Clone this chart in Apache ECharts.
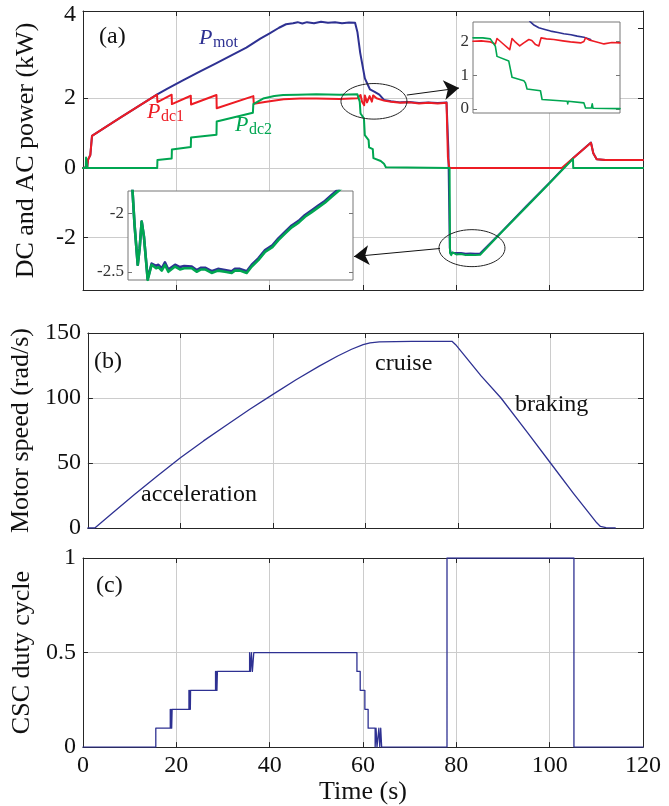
<!DOCTYPE html>
<html>
<head>
<meta charset="utf-8">
<title>DC/AC power, motor speed and CSC duty cycle</title>
<script src="https://cdn.jsdelivr.net/npm/echarts@6/dist/echarts.min.js"></script>
<style>
    html, body { margin: 0; padding: 0; background: #fff; }
    #chart { width: 669px; height: 806px; }
</style>
</head>
<body>
<div id="chart"></div>
<script>
    // (a) power traces, [time s, kW]
    const pMot = [[0, 0], [0.9, 0.03], [1.07, 0.23], [1.57, 0.37], [1.93, 0.92], [4, 1.1], [8, 1.44], [12, 1.78],
        [15.9, 2.11], [18, 2.27], [21.4, 2.51], [25, 2.76], [28.5, 3.0], [32, 3.24], [35, 3.45], [38, 3.71],
        [40, 3.86], [42, 4.02], [43.5, 4.12], [45, 4.15], [46, 4.18], [47, 4.14], [48, 4.18], [49.5, 4.15],
        [51, 4.19], [52.5, 4.16], [54, 4.18], [55.5, 4.15], [57, 4.17], [58.3, 4.16], [58.8, 3.9], [59.4, 3.3],
        [60.4, 2.57], [61.5, 2.25], [62.5, 2.18], [63.5, 2.1], [64.5, 1.95], [66, 1.91], [68, 1.88], [70, 1.89],
        [72, 1.86], [74, 1.88], [76, 1.86], [77.9, 1.88], [78.3, 0.5], [78.6, -2.3], [78.8, -2.43], [79.2, -2.42],
        [80, -2.44], [81, -2.44], [82, -2.46], [83, -2.45], [84, -2.46], [85.1, -2.45], [90, -1.79], [95, -1.1],
        [100, -0.42], [105, 0.28], [108.85, 0.73], [109.35, 0.42], [110.07, 0.25], [112, 0.23], [120, 0.23]]
    const pDc1 = [[0, 0], [0.9, 0.02], [1.07, 0.23], [1.57, 0.37], [1.93, 0.92], [4, 1.1], [8, 1.44], [12, 1.78],
        [15.86, 2.1], [15.95, 1.89], [19.0, 2.1], [19.05, 1.83], [23.1, 2.07], [23.15, 1.82], [28.6, 2.09],
        [28.65, 1.71], [36.5, 2.06], [36.6, 1.84], [39.3, 1.9], [43, 1.97], [46.5, 1.99], [50, 1.99], [55, 1.98],
        [58.8, 2.0], [59.2, 1.95], [59.47, 2.09], [59.8, 1.9], [60.25, 1.8], [60.39, 2.08], [60.86, 1.88],
        [61.42, 2.06], [61.9, 1.9], [62.17, 2.08], [62.9, 2.0], [63.8, 1.96], [64.5, 1.93], [66, 1.9], [68, 1.87],
        [70, 1.88], [72, 1.85], [74, 1.87], [76, 1.85], [77.9, 1.87], [78.2, 0.3], [78.5, 0], [102.6, 0],
        [105, 0.28], [108.85, 0.72], [109.35, 0.42], [110.07, 0.25], [112, 0.23], [120, 0.23]]
    const pDc2 = [[0, 0], [0.6, 0], [0.65, 0.3], [0.9, 0.28], [0.95, 0], [15.9, 0], [15.95, 0.23], [19.0, 0.27],
        [19.05, 0.53], [23.1, 0.6], [23.15, 0.87], [28.6, 0.95], [28.65, 1.33], [36.4, 1.58], [36.5, 1.83],
        [38.6, 1.99], [41, 2.06], [42.9, 2.09], [46, 2.1], [50, 2.11], [55, 2.1], [58.8, 2.11], [59.3, 1.9],
        [59.47, 1.56], [60.2, 1.42], [60.39, 0.94], [61.2, 0.8], [61.31, 0.59], [62.1, 0.54], [62.23, 0.28],
        [63.8, 0.2], [64.5, 0.12], [64.9, 0.02], [65.3, 0], [78.55, 0], [78.65, -2.44], [78.9, -2.5],
        [79.2, -2.42], [80, -2.48], [81, -2.47], [82, -2.5], [83, -2.49], [84, -2.5], [85.1, -2.49], [90, -1.8],
        [95, -1.12], [100, -0.43], [105.0, 0.26], [105.05, 0], [120, 0]]

    // (a) inset, top right
    const motZoomA = [[61.2, 2.9], [61.48, 2.6], [61.7, 2.5], [62.03, 2.41], [62.4, 2.36], [62.75, 2.31],
        [63.2, 2.27], [63.56, 2.23], [64.0, 2.2], [64.38, 2.16], [64.79, 2.13], [65.2, 2.06]]
    const dc1ZoomA = [[58, 2.01], [58.5, 2.02], [59.06, 1.99], [59.37, 1.93], [59.47, 2.09], [59.8, 1.95],
        [60.25, 1.76], [60.39, 2.09], [60.6, 1.98], [60.86, 1.87], [61.11, 1.96], [61.42, 2.06], [61.6, 2.03],
        [61.83, 1.91], [62.03, 1.87], [62.17, 2.11], [62.5, 2.08], [62.95, 2.06], [63.5, 2.02], [63.97, 1.99],
        [64.59, 1.96], [64.79, 2.0], [64.89, 2.11], [65.1, 2.05], [65.4, 2.01], [66.02, 1.93], [66.5, 1.97],
        [67, 1.96]]
    const dc2ZoomA = [[58, 2.11], [58.6, 2.11], [59.06, 2.08], [59.37, 1.86], [59.47, 1.56], [60.19, 1.42],
        [60.29, 1.37], [60.39, 0.94], [61.11, 0.84], [61.21, 0.77], [61.31, 0.59], [62.13, 0.54], [62.23, 0.28],
        [63.77, 0.23], [63.8, 0.15], [63.83, 0.23], [64.79, 0.18], [64.89, 0.03], [65.25, 0.03], [65.3, 0.15],
        [65.35, 0.02], [67, 0.01]]

    // (a) inset, bottom left
    const motZoomB = [[77.7, -1.7], [77.85, -2.1], [78.02, -2.44], [78.12, -2.3], [78.23, -2.07], [78.35, -2.2],
        [78.55, -2.56], [78.76, -2.43], [79.0, -2.45], [79.12, -2.44], [79.3, -2.47], [79.47, -2.42],
        [79.65, -2.48], [80.01, -2.44], [80.27, -2.46], [80.5, -2.45], [80.9, -2.455], [81.16, -2.485],
        [81.4, -2.465], [81.61, -2.465], [81.96, -2.495], [82.3, -2.475], [82.67, -2.485], [83.03, -2.495],
        [83.2, -2.475], [83.47, -2.475], [83.83, -2.495], [84.1, -2.44], [84.45, -2.385], [84.81, -2.315],
        [85.2, -2.275], [85.52, -2.215], [85.9, -2.155], [86.23, -2.105], [86.6, -2.065], [86.94, -2.015],
        [87.3, -1.975], [87.65, -1.935], [88.0, -1.895], [88.36, -1.845], [88.72, -1.795], [89.0, -1.755]]
    const dc2ZoomB = [[77.7, -1.7], [77.85, -2.1], [78.02, -2.44], [78.12, -2.3], [78.23, -2.07], [78.35, -2.2],
        [78.55, -2.57], [78.76, -2.44], [79.0, -2.47], [79.12, -2.46], [79.3, -2.49], [79.47, -2.44],
        [79.65, -2.5], [80.01, -2.455], [80.27, -2.48], [80.5, -2.47], [80.9, -2.47], [81.16, -2.5],
        [81.4, -2.48], [81.61, -2.48], [81.96, -2.51], [82.3, -2.49], [82.67, -2.5], [83.03, -2.51],
        [83.2, -2.49], [83.47, -2.49], [83.83, -2.51], [84.1, -2.455], [84.45, -2.4], [84.81, -2.33],
        [85.2, -2.29], [85.52, -2.23], [85.9, -2.17], [86.23, -2.12], [86.6, -2.08], [86.94, -2.03],
        [87.3, -1.99], [87.65, -1.95], [88.0, -1.91], [88.36, -1.86], [88.72, -1.81], [89.0, -1.77]]

    // (b) motor speed, [time s, rad/s]
    const speed = [[0, 0], [1.5, 0], [5, 10.5], [10, 25.5], [15, 40], [20, 54], [25, 67], [30, 79.3],
        [35, 91.3], [40, 102.8], [45, 114], [50, 124.5], [54, 132.3], [57, 137.5], [59.5, 141], [61, 142.4],
        [63, 143.2], [70, 143.5], [78.7, 143.6], [79.5, 141], [85, 117], [89.3, 100], [95, 73.5], [100, 50],
        [105, 26.5], [108, 13], [110, 4], [110.8, 1.2], [112, 0.3], [114, 0]]

    // (c) CSC duty cycle, value held from each time on
    const duty = [[0, 0], [15.6, 0.1], [18.7, 0.2], [18.8, 0.1], [18.9, 0.2], [19.0, 0.1], [19.1, 0.2],
        [22.7, 0.3], [22.8, 0.2], [22.9, 0.3], [23.0, 0.2], [23.05, 0.3], [28.4, 0.4], [28.5, 0.3], [28.6, 0.4],
        [28.7, 0.3], [28.8, 0.4], [35.7, 0.5], [35.9, 0.4], [36.1, 0.5], [36.3, 0.4], [36.6, 0.5], [58.7, 0.4],
        [59.4, 0.3], [60.4, 0.2], [61.1, 0.1], [62.6, 0], [62.8, 0.1], [63.0, 0], [63.4, 0.1], [63.6, 0],
        [63.8, 0.1], [64.0, 0], [78.0, 1], [105.2, 0], [120, 0]]

    // ellipses [t, P, half width s, half height kW] and arrows [from, to]
    const ellipses = [[62.35, 1.91, 7.07, 0.51], [83.35, -2.3, 7.07, 0.53]]
    const arrows = [[[69.4, 2.09], [80.57, 2.29]], [[76.5, -2.31], [58.07, -2.54]]]

    const BLUE = '#2e3192'
    const RED = '#ed1c24'
    const GREEN = '#00a651'
    const AXIS = '#262626'
    const GRID = '#cccccc'
    const SERIF = '"Liberation Serif", "DejaVu Serif", serif'

    const chart = echarts.init(document.getElementById('chart'))

    function timeAxis(grid, position, labels) {
        return {
            type: 'value', gridIndex: grid, position: position, min: 0, max: 120, interval: 20,
            axisLine: { show: true, onZero: false, lineStyle: { color: AXIS, width: 1 } },
            axisTick: { show: true, inside: true, length: 5, lineStyle: { color: AXIS } },
            axisLabel: { show: labels, margin: 7, color: '#111', fontFamily: SERIF, fontSize: 24 },
            splitLine: { show: position === 'bottom', lineStyle: { color: GRID, width: 1 } }
        }
    }

    function sideAxis(grid, position, min, max, extra) {
        return Object.assign({
            type: 'value', gridIndex: grid, position: position, min: min, max: max,
            axisLine: { show: true, onZero: false, lineStyle: { color: AXIS, width: 1 } },
            axisTick: { show: true, inside: true, length: 5, lineStyle: { color: AXIS } },
            axisLabel: { show: position === 'left', margin: 7, color: '#111', fontFamily: SERIF, fontSize: 24 },
            splitLine: { show: position === 'left', lineStyle: { color: GRID, width: 1 } },
            nameLocation: 'middle',
            nameTextStyle: { color: '#111', fontFamily: SERIF, fontSize: 26 }
        }, extra || {})
    }

    function insetX(grid, min, max) {
        return {
            type: 'value', gridIndex: grid, min: min, max: max, z: 6,
            axisLine: { show: false }, axisTick: { show: false },
            axisLabel: { show: false }, splitLine: { show: false }
        }
    }

    function insetY(grid, position, min, max, ticks) {
        return {
            type: 'value', gridIndex: grid, position: position, min: min, max: max, z: 6,
            axisLine: { show: false },
            axisTick: { show: true, inside: true, length: 4, customValues: ticks, lineStyle: { color: '#777' } },
            axisLabel: {
                show: position === 'left', customValues: ticks, margin: 4,
                color: '#333', fontFamily: SERIF, fontSize: 17
            },
            splitLine: { show: false }
        }
    }

    function line(data, color, width, xi, yi, z) {
        return {
            type: 'line', data: data, xAxisIndex: xi, yAxisIndex: yi, z: z,
            showSymbol: false, symbol: 'none', silent: true,
            lineStyle: { color: color, width: width, join: 'round', cap: 'round' }
        }
    }

    function label(text, x, y, size, color, italic) {
        return {
            type: 'text', x: x, y: y, z: 20,
            style: {
                text: text, fill: color, verticalAlign: 'middle', textVerticalAlign: 'middle',
                font: (italic ? 'italic ' : '') + size + 'px ' + SERIF
            }
        }
    }

    const blueSeries = line(pMot, BLUE, 2, 0, 0, 2)
    blueSeries.markLine = {
        silent: true,
        symbol: ['none', 'arrow'],
        symbolSize: 15,
        label: { show: false },
        lineStyle: { color: '#111', width: 1, type: 'solid' },
        data: arrows.map(a => [{ coord: a[0] }, { coord: a[1] }])
    }

    const options = {
        animation: false,
        grid: [
            { left: 83, top: 11, width: 560, height: 279 },
            { left: 83, top: 333, width: 560, height: 195 },
            { left: 83, top: 558, width: 560, height: 196 },
            { left: 473, top: 22, width: 147, height: 91, show: true, z: 5,
              backgroundColor: '#fff', borderColor: '#777', borderWidth: 1 },
            { left: 128, top: 191, width: 225, height: 89, show: true, z: 5,
              backgroundColor: '#fff', borderColor: '#777', borderWidth: 1 }
        ],
        xAxis: [
            timeAxis(0, 'bottom', false),
            timeAxis(0, 'top', false),
            timeAxis(1, 'bottom', false),
            timeAxis(1, 'top', false),
            Object.assign(timeAxis(2, 'bottom', true), {
                name: 'Time (s)', nameLocation: 'middle', nameGap: 25,
                nameTextStyle: { color: '#111', fontFamily: SERIF, fontSize: 26 }
            }),
            timeAxis(2, 'top', false),
            insetX(3, 58, 67),
            insetX(4, 77.5, 89.5)
        ],
        yAxis: [
            sideAxis(0, 'left', -3.5, 4.5, {
                name: 'DC and AC power (kW)', nameGap: 44,
                axisTick: { show: true, inside: true, length: 5, customValues: [-2, 0, 2], lineStyle: { color: AXIS } },
                axisLabel: {
                    show: true, margin: 7, color: '#111', fontFamily: SERIF, fontSize: 24,
                    customValues: [-2, 0, 2, 4.4],
                    formatter: v => (v > 3 ? '4' : String(v))
                }
            }),
            sideAxis(0, 'right', -3.5, 4.5, {
                axisTick: { show: true, inside: true, length: 5, customValues: [-2, 0, 2, 4], lineStyle: { color: AXIS } }
            }),
            sideAxis(1, 'left', 0, 150, { interval: 50, name: 'Motor speed (rad/s)', nameGap: 44 }),
            sideAxis(1, 'right', 0, 150, { interval: 50 }),
            sideAxis(2, 'left', 0, 1, { interval: 0.5, name: 'CSC duty cycle', nameGap: 44 }),
            sideAxis(2, 'right', 0, 1, { interval: 0.5 }),
            insetY(3, 'left', -0.12, 2.58, [0, 1, 2]),
            insetY(3, 'right', -0.12, 2.58, [0, 1, 2]),
            insetY(4, 'left', -2.57, -1.81, [-2.5, -2]),
            insetY(4, 'right', -2.57, -1.81, [-2.5, -2])
        ],
        series: [
            blueSeries,
            line(pDc1, RED, 2, 0, 0, 2),
            line(pDc2, GREEN, 2, 0, 0, 2),
            {
                type: 'custom', xAxisIndex: 0, yAxisIndex: 0, z: 3, silent: true, clip: false,
                data: ellipses,
                renderItem: (params, api) => {
                    const c = api.coord([api.value(0), api.value(1)])
                    const s = api.size([api.value(2), api.value(3)])
                    const points = []
                    for (let i = 0; i <= 72; i++) {
                        const a = i / 72 * Math.PI * 2
                        points.push([c[0] + s[0] * Math.cos(a), c[1] + s[1] * Math.sin(a)])
                    }
                    return { type: 'polyline', shape: { points: points }, style: { fill: null, stroke: '#222', lineWidth: 1 } }
                }
            },
            line(speed, BLUE, 1.3, 2, 2, 2),
            Object.assign(line(duty, BLUE, 1.3, 4, 4, 2), { step: 'end' }),
            line(motZoomA, BLUE, 1.6, 6, 6, 7),
            line(dc1ZoomA, RED, 1.6, 6, 6, 7),
            line(dc2ZoomA, GREEN, 1.6, 6, 6, 7),
            line(motZoomB, BLUE, 2.6, 7, 8, 7),
            line(dc2ZoomB, GREEN, 2.6, 7, 8, 7)
        ],
        graphic: [
            label('(a)', 99, 37, 24, '#111'),
            label('P', 199, 38, 22, BLUE, true),
            label('mot', 213, 43, 16, BLUE),
            label('P', 147, 112, 22, RED, true),
            label('dc1', 161, 117, 16, RED),
            label('P', 235, 125, 22, GREEN, true),
            label('dc2', 249, 130, 16, GREEN),
            label('(b)', 94, 362, 24, '#111'),
            label('cruise', 375, 364, 24, '#111'),
            label('braking', 515, 405, 24, '#111'),
            label('acceleration', 141, 495, 24, '#111'),
            label('(c)', 96, 586, 24, '#111')
        ]
    }
    chart.setOption(options)
</script>
</body>
</html>
